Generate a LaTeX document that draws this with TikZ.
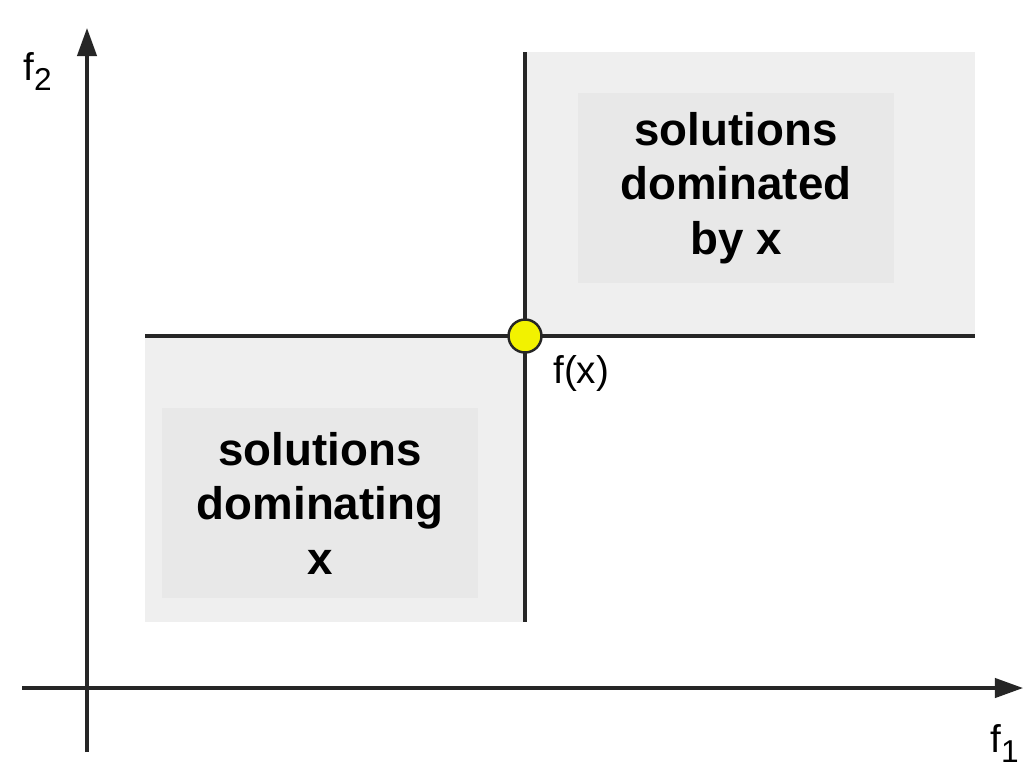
\documentclass[tikz,border=0pt]{standalone}
\usepackage{fontspec}
\setmainfont{Liberation Sans}
\usetikzlibrary{arrows.meta}
\definecolor{regionouter}{HTML}{EFEFEF}
\definecolor{regioninner}{HTML}{E8E8E8}
\definecolor{axisgray}{HTML}{262626}
\definecolor{pointyellow}{HTML}{F2F200}
\newcommand{\axissub}[1]{\raisebox{-6pt}{\fontsize{18}{18}\selectfont #1}}
\begin{document}
\begin{tikzpicture}[
	x=0.02cm, y=-0.02cm,
	axis/.style={ draw=axisgray, line width=1.9pt, -{Triangle[length=16pt,width=11pt]} },
	bound/.style={ draw=axisgray, line width=1.9pt },
	region/.style={ fill=regionouter },
	regiontext/.style={ align=center, fill=regioninner, inner sep=0pt, font=\fontsize{26}{31}\selectfont\bfseries },
	axislabel/.style={ inner sep=0pt, font=\fontsize{22}{26}\selectfont },
	point/.style={ circle, draw=axisgray, line width=1.4pt, fill=pointyellow, inner sep=0pt, minimum size=0.66cm }
]
\useasboundingbox[fill=white] (0,0) rectangle (1026,778);

% shaded regions
\fill[region] (527,52) rectangle (975,336);
\fill[region] (145,336) rectangle (525,622);

\node at (736,188) (dominated) [regiontext,minimum width=6.34cm,minimum height=3.82cm] {solutions\\dominated\\by x};
\node at (320,503) (dominating) [regiontext,minimum width=6.32cm,minimum height=3.8cm] {solutions\\dominating\\x};

% bounds through f(x)
\coordinate (fx) at (525,336);
\coordinate (top) at (525,52);
\coordinate (bottom) at (525,622);
\coordinate (left) at (145,336);
\coordinate (right) at (975,336);
\draw[bound] (top) -- (bottom);
\draw[bound] (left) -- (right);

% axes
\coordinate (ystart) at (87,752);
\coordinate (yend) at (87,28);
\coordinate (xstart) at (22,688);
\coordinate (xend) at (1023,688);
\draw[axis] (ystart) -- (yend);
\draw[axis] (xstart) -- (xend);

\node at (23,80) (f2) [axislabel,anchor=base west] {f\axissub{2}};
\node at (990,752) (f1) [axislabel,anchor=base west] {f\axissub{1}};

\node at (fx) (fxpoint) [point] {};
\node at (553,383) (fxlabel) [axislabel,anchor=base west] {f(x)};

\end{tikzpicture}
\end{document}
